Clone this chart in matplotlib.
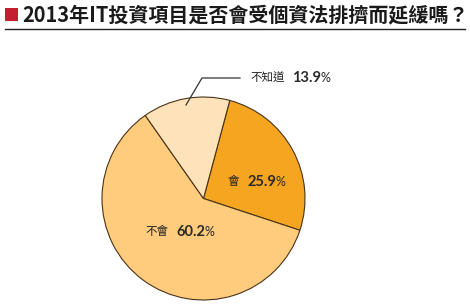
import matplotlib
matplotlib.use("Agg")
import matplotlib.pyplot as plt
from matplotlib.lines import Line2D
from matplotlib.patches import Rectangle

plt.rcParams['font.family'] = ['Noto Sans CJK TC', 'DejaVu Sans']

title = "2013年IT投資項目是否會受個資法排擠而延緩嗎？"
categories = ["會", "不會", "不知道"]
values = [25.9, 60.2, 13.9]
colors = ["#F5A520", "#FECC7C", "#FEE3BA"]

W, H = 470, 307
fig = plt.figure(figsize=(W / 100, H / 100), dpi=100)
fig.patch.set_facecolor("white")
renderer = fig.canvas.get_renderer()

def fx(x):
    return x / W

def fy(y):
    return 1 - y / H

# title
fig.patches.append(Rectangle((fx(5), fy(21)), 13 / W, 13 / H, transform=fig.transFigure,
                             facecolor="#C41F2E", edgecolor="none"))
fig.text(fx(22), fy(15), title, fontsize=14.4, fontweight="bold", color="#1a1a1a",
         ha="left", va="center")
fig.lines.append(Line2D([fx(5), fx(465)], [fy(28.5), fy(28.5)], transform=fig.transFigure,
                        color="#222222", lw=1.0))

# pie
cx, cy, r = 203.5, 198.5, 101.5
ax = fig.add_axes([fx(cx - r), fy(cy + r), 2 * r / W, 2 * r / H])
ax.pie(values, colors=colors, startangle=75, counterclock=False, radius=1,
       wedgeprops=dict(edgecolor="#4a3418", linewidth=0.8))
ax.set_xlim(-1, 1)
ax.set_ylim(-1, 1)
ax.set_aspect("equal")
ax.axis("off")

def right_px(t):
    bb = t.get_window_extent(renderer=renderer)
    return bb.x1

def label(x0, y, name, val):
    t1 = fig.text(fx(x0), fy(y), name, fontsize=8.3, color="#222222", ha="left", va="center")
    x1 = right_px(t1) + 8
    t2 = fig.text(fx(x1), fy(y), f"{val}", fontsize=10.5, fontweight="bold",
                  color="#2a2a2a", ha="left", va="center", family=["Lato", "DejaVu Sans"])
    x2 = right_px(t2) - 0.8
    fig.text(fx(x2), fy(y + 0.3), "%", fontsize=9, color="#2a2a2a", ha="left", va="center",
             family=["Lato", "DejaVu Sans"])

label(228, 182, categories[0], values[0])
label(145, 232, categories[1], values[1])
label(250, 78, categories[2], values[2])

fig.lines.append(Line2D([fx(186), fx(202), fx(240)], [fy(105), fy(78), fy(78)],
                        transform=fig.transFigure, color="#333333", lw=0.9))

fig.savefig("out.png", dpi=100)
